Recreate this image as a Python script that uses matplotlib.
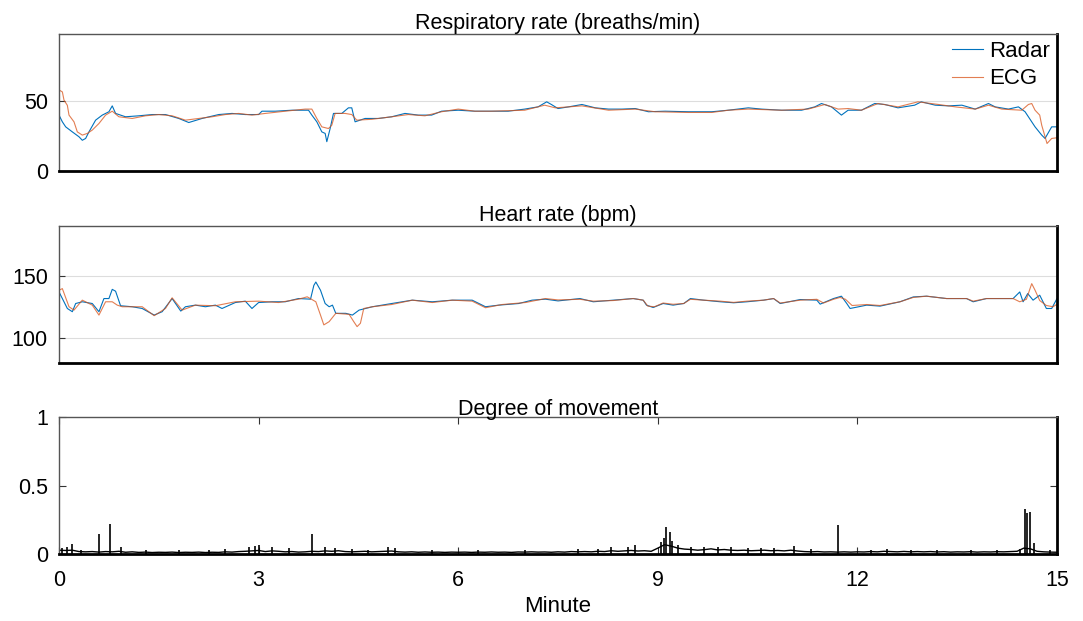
import numpy as np
import matplotlib.pyplot as plt

plt.rcParams['font.family'] = ['Liberation Sans', 'DejaVu Sans']

# (minute, value)
resp_radar = [(0, 40), (0.05, 35.2), (0.1, 31.6), (0.2, 28), (0.3, 24.5), (0.35, 22), (0.4, 23.3),
              (0.45, 28), (0.55, 36.4), (0.65, 40), (0.75, 42.4), (0.8, 46.6), (0.85, 41.2), (1.0, 38.8),
              (1.2, 39.5), (1.4, 40.4), (1.6, 40.4), (1.8, 37.6), (1.95, 34.7), (2.15, 37.6), (2.4, 40.4),
              (2.6, 41.2), (2.8, 40.4), (3.0, 40.4), (3.05, 42.8), (3.25, 42.8), (3.5, 43.5), (3.75, 43.5),
              (3.8, 40), (3.875, 35.2), (3.95, 28), (4.0, 26.9), (4.025, 21), (4.075, 30.4), (4.125, 41.2),
              (4.25, 41.2), (4.35, 45.2), (4.4, 45.2), (4.45, 35.2), (4.6, 37.6), (4.8, 37.6), (5.0, 38.8),
              (5.2, 41.2), (5.4, 40), (5.6, 40), (5.75, 42.8), (6.0, 43.5), (6.25, 42.8), (6.5, 42.8),
              (6.75, 42.8), (7.0, 44.3), (7.2, 45.9), (7.33, 49.5), (7.4, 47.6), (7.5, 44.7), (7.66, 45.9),
              (7.86, 47.6), (8.06, 45.2), (8.26, 44.3), (8.46, 44.3), (8.66, 44.7), (8.86, 42.4), (9.11, 42.8),
              (9.46, 42.4), (9.81, 42.4), (10.06, 43.5), (10.36, 45.2), (10.56, 44.3), (10.86, 43.5),
              (11.16, 43.5), (11.36, 45.9), (11.46, 48.3), (11.61, 45.9), (11.76, 40), (11.86, 43.5),
              (12.06, 43.5), (12.26, 48.3), (12.41, 47.6), (12.61, 45.2), (12.86, 47.1), (12.96, 49.5),
              (13.17, 47.1), (13.37, 46.6), (13.57, 47.1), (13.77, 44.3), (13.97, 48.3), (14.07, 45.9),
              (14.27, 44.3), (14.42, 45.9), (14.52, 42.4), (14.57, 38.8), (14.67, 31.6), (14.77, 25.7),
              (14.82, 23.3), (14.92, 31.6), (15.0, 31.6)]

resp_ecg = [(0, 58), (0.05, 56.6), (0.075, 50.7), (0.125, 47), (0.15, 40), (0.225, 35.2), (0.275, 28),
            (0.35, 25.7), (0.425, 26.9), (0.5, 29.3), (0.6, 34), (0.7, 40), (0.8, 42.8), (0.9, 38.8),
            (1.1, 37.6), (1.3, 39.5), (1.5, 40.4), (1.7, 39.5), (1.9, 36.4), (2.1, 37.6), (2.3, 38.8),
            (2.5, 40.4), (2.7, 41.2), (2.9, 40), (3.1, 41.2), (3.4, 42.8), (3.7, 44.3), (3.8, 44.3),
            (3.875, 37.6), (3.95, 31.6), (4.05, 30.4), (4.1, 32.8), (4.15, 41.2), (4.3, 41.2), (4.4, 40.4),
            (4.475, 36.4), (4.7, 37), (5.0, 38.8), (5.25, 40.4), (5.5, 39.5), (5.75, 42.4), (6.0, 44.3),
            (6.25, 42.8), (6.5, 42.8), (7.0, 43.5), (7.3, 47.1), (7.46, 45.2), (7.86, 46.6), (8.26, 43.5),
            (8.66, 44.3), (8.96, 42.4), (9.46, 41.9), (9.81, 41.9), (10.06, 43.5), (10.36, 44.3),
            (10.86, 43.5), (11.26, 44.3), (11.51, 47.6), (11.71, 44.3), (11.86, 44.7), (12.06, 43.5),
            (12.31, 48.3), (12.61, 45.9), (12.91, 49.5), (13.22, 47.6), (13.47, 45.9), (13.77, 44.3),
            (13.97, 47.1), (14.17, 44.3), (14.47, 43.5), (14.57, 47.6), (14.62, 48.3), (14.67, 43.5),
            (14.74, 40), (14.77, 32.8), (14.85, 19.7), (14.92, 23.3), (15.0, 23.8)]

hr_radar = [(0, 136.9), (0.05, 131.6), (0.125, 123.6), (0.2, 121), (0.25, 127.6), (0.35, 129), (0.5, 127.6),
            (0.6, 121), (0.675, 131.6), (0.75, 131.6), (0.8, 139), (0.85, 137.5), (0.925, 125.8), (1.1, 125),
            (1.25, 123.6), (1.43, 118.3), (1.55, 121), (1.7, 131.6), (1.83, 121.5), (1.9, 125), (2.05, 126.3),
            (2.2, 125), (2.35, 126.3), (2.45, 123.6), (2.65, 128.4), (2.8, 129.5), (2.9, 123.6), (3.0, 128.4),
            (3.2, 129), (3.4, 129), (3.6, 131.6), (3.78, 131.1), (3.83, 142.2), (3.86, 144.9), (3.93, 138.3),
            (4.0, 127.6), (4.06, 125), (4.11, 126.3), (4.16, 119.7), (4.31, 119.7), (4.41, 118.3),
            (4.51, 122.3), (4.71, 125), (5.0, 127.6), (5.31, 130.3), (5.61, 129), (5.91, 130.3), (6.21, 130.3),
            (6.41, 125), (6.61, 126.3), (6.91, 127.6), (7.11, 130.3), (7.31, 131.1), (7.5, 129.7),
            (7.83, 131.6), (8.03, 129), (8.33, 130.3), (8.63, 131.6), (8.78, 130.3), (8.83, 126.3),
            (8.93, 124.4), (9.08, 127.6), (9.23, 126.3), (9.39, 127.6), (9.49, 131.6), (9.69, 130.3),
            (9.94, 129), (10.14, 128.2), (10.34, 129), (10.59, 130.3), (10.74, 131.6), (10.84, 127.6),
            (11.14, 130.8), (11.39, 130.3), (11.44, 127.1), (11.64, 131.6), (11.76, 133.5), (11.84, 127.6),
            (11.89, 123.6), (12.14, 126.3), (12.34, 125.5), (12.64, 129), (12.84, 132.9), (13.04, 133.5),
            (13.34, 131.6), (13.64, 131.6), (13.74, 129), (13.94, 131.6), (14.14, 131.6), (14.34, 131.6),
            (14.44, 136.9), (14.49, 129), (14.56, 135.6), (14.64, 130.3), (14.74, 134.3), (14.84, 123.6),
            (14.92, 123.6), (15.0, 131.6)]

hr_ecg = [(0, 138.3), (0.05, 139.6), (0.15, 125), (0.225, 122.3), (0.35, 130.3), (0.5, 126.3), (0.6, 118.3),
          (0.7, 129), (0.8, 129), (0.875, 126.3), (0.95, 125), (1.25, 125), (1.43, 117.8), (1.6, 123.6),
          (1.7, 132.2), (1.85, 122.3), (2.05, 126.3), (2.35, 125.8), (2.65, 129), (3.0, 129.5), (3.3, 128.4),
          (3.6, 131.1), (3.73, 133), (3.86, 129), (3.93, 118.3), (3.98, 110.4), (4.06, 113), (4.16, 119.7),
          (4.36, 118.9), (4.43, 113), (4.48, 109), (4.53, 111.7), (4.58, 123.6), (4.71, 125), (5.0, 126.8),
          (5.31, 130.3), (5.61, 128.4), (5.91, 130.3), (6.21, 129.5), (6.41, 124.2), (6.66, 126.8),
          (7.01, 128.4), (7.31, 131.6), (7.5, 130.5), (7.83, 131), (8.03, 129.5), (8.33, 130), (8.63, 131.6),
          (8.78, 130.3), (8.85, 125.5), (8.95, 125), (9.08, 128), (9.23, 127), (9.39, 127.6), (9.49, 131),
          (9.69, 130.3), (9.94, 129.5), (10.14, 128.5), (10.34, 129.5), (10.59, 130.3), (10.74, 131.6),
          (10.84, 128), (11.14, 130.3), (11.39, 131), (11.49, 128), (11.64, 131), (11.74, 132.5), (11.82, 131),
          (11.92, 126), (12.14, 126.8), (12.34, 126), (12.64, 129), (12.84, 132.5), (13.04, 133.5),
          (13.34, 131.6), (13.64, 131.6), (13.74, 129.5), (13.94, 131.6), (14.14, 131.6), (14.34, 131.6),
          (14.44, 129), (14.54, 131), (14.62, 143.6), (14.67, 138.3), (14.74, 130), (14.84, 126),
          (14.94, 125), (15.0, 127)]

# movement baseline, one value every 0.1 min from 0 to 15
mov_base = [0.030, 0.028, 0.030, 0.020, 0.018, 0.020, 0.016, 0.020, 0.018, 0.022,
            0.015, 0.018, 0.014, 0.016, 0.013, 0.015, 0.014, 0.016, 0.013, 0.015,
            0.014, 0.016, 0.013, 0.015, 0.014, 0.018, 0.016, 0.020, 0.022, 0.025,
            0.028, 0.020, 0.025, 0.022, 0.018, 0.020, 0.016, 0.018, 0.022, 0.020,
            0.025, 0.022, 0.026, 0.020, 0.018, 0.020, 0.022, 0.018, 0.020, 0.022,
            0.024, 0.018, 0.016, 0.018, 0.015, 0.017, 0.015, 0.016, 0.014, 0.016,
            0.015, 0.016, 0.014, 0.016, 0.015, 0.017, 0.015, 0.016, 0.014, 0.017,
            0.016, 0.018, 0.016, 0.017, 0.015, 0.018, 0.016, 0.020, 0.018, 0.020,
            0.018, 0.022, 0.020, 0.026, 0.022, 0.025, 0.028, 0.024, 0.026, 0.022,
            0.045, 0.070, 0.060, 0.045, 0.038, 0.035, 0.030, 0.034, 0.040, 0.032,
            0.035, 0.030, 0.028, 0.030, 0.026, 0.028, 0.030, 0.026, 0.028, 0.025,
            0.030, 0.024, 0.020, 0.018, 0.020, 0.017, 0.018, 0.016, 0.018, 0.016,
            0.018, 0.017, 0.020, 0.018, 0.022, 0.020, 0.018, 0.021, 0.018, 0.020,
            0.018, 0.020, 0.017, 0.019, 0.016, 0.018, 0.017, 0.019, 0.016, 0.018,
            0.017, 0.019, 0.018, 0.020, 0.022, 0.045, 0.040, 0.022, 0.018, 0.016,
            0.015]

mov_spikes = [(0.05, 0.045), (0.12, 0.05), (0.2, 0.075), (0.33, 0.035), (0.6, 0.15), (0.77, 0.22),
              (0.93, 0.05), (1.3, 0.03), (1.8, 0.03), (2.25, 0.035), (2.5, 0.04), (2.85, 0.055),
              (2.95, 0.06), (3.0, 0.07), (3.2, 0.05), (3.45, 0.045), (3.8, 0.15), (4.0, 0.05),
              (4.15, 0.045), (4.4, 0.04), (4.65, 0.035), (4.95, 0.055), (5.05, 0.045), (5.6, 0.03),
              (6.3, 0.03), (7.0, 0.03), (7.8, 0.04), (8.1, 0.04), (8.3, 0.05), (8.55, 0.05), (8.66, 0.07),
              (9.05, 0.09), (9.1, 0.12), (9.13, 0.2), (9.18, 0.16), (9.22, 0.1), (9.3, 0.065), (9.5, 0.05),
              (9.7, 0.055), (9.9, 0.05), (10.1, 0.05), (10.35, 0.045), (10.55, 0.045), (10.75, 0.045),
              (11.05, 0.06), (11.3, 0.04), (11.71, 0.215), (12.2, 0.035), (12.45, 0.04), (12.8, 0.035),
              (13.2, 0.035), (13.7, 0.035), (14.1, 0.035), (14.45, 0.04), (14.52, 0.33), (14.55, 0.3),
              (14.59, 0.31), (14.65, 0.08), (14.9, 0.035)]

x_ticks = [0, 3, 6, 9, 12, 15]

blue = '#0072BD'
orange = '#D95319'


def style_box(ax):
    # matlab-ish box: light left/top, heavy bottom/right
    ax.spines['left'].set_color('#555555')
    ax.spines['top'].set_color('#555555')
    ax.spines['left'].set_linewidth(1.0)
    ax.spines['top'].set_linewidth(1.0)
    ax.spines['bottom'].set_color('black')
    ax.spines['right'].set_color('black')
    ax.spines['bottom'].set_linewidth(2.0)
    ax.spines['right'].set_linewidth(2.0)


fig = plt.figure(figsize=(10.83, 6.21), dpi=100)
ax1 = fig.add_axes([0.0545, 0.7246, 0.9215, 0.2206])
ax2 = fig.add_axes([0.0545, 0.4160, 0.9215, 0.2201])
ax3 = fig.add_axes([0.0545, 0.1074, 0.9215, 0.2206])

t, v = np.array(resp_radar).T
ax1.plot(t, v, color=blue, lw=0.8, label='Radar')
t, v = np.array(resp_ecg).T
ax1.plot(t, v, color=orange, lw=0.8, alpha=0.75, label='ECG')
ax1.set_ylim(0, 98)
ax1.set_yticks([0, 50])
ax1.set_title('Respiratory rate (breaths/min)', fontsize=15.5, pad=2)
ax1.legend(loc='upper right', frameon=False, fontsize=16, handlelength=1.4,
           handletextpad=0.3, borderaxespad=0.15, labelspacing=0.3, borderpad=0.15)

t, v = np.array(hr_radar).T
ax2.plot(t, v, color=blue, lw=0.8)
t, v = np.array(hr_ecg).T
ax2.plot(t, v, color=orange, lw=0.8, alpha=0.75)
ax2.set_ylim(80, 190)
ax2.set_yticks([100, 150])
ax2.set_title('Heart rate (bpm)', fontsize=15.5, pad=2)

for ax in (ax1, ax2):
    ax.set_xlim(0, 15)
    ax.set_xticks([])
    ax.yaxis.grid(True, color='#dddddd', lw=0.8)
    ax.set_axisbelow(True)
    ax.tick_params(axis='y', direction='in', length=4, labelsize=15.5, pad=8, color='#333333')
    style_box(ax)

mt = np.linspace(0, 15, len(mov_base))
ax3.plot(mt, mov_base, color='black', lw=1.0)
st, sh = np.array(mov_spikes).T
ax3.vlines(st, 0, sh, color='black', lw=1.2)
ax3.set_xlim(0, 15)
ax3.set_ylim(0, 1)
ax3.set_yticks([0, 0.5, 1])
ax3.set_yticklabels(['0', '0.5', '1'])
ax3.set_xticks(x_ticks)
ax3.tick_params(direction='in', length=5, labelsize=15.5, top=True, right=True, color='#333333')
ax3.tick_params(axis='x', pad=11)
ax3.tick_params(axis='y', pad=8)
ax3.set_title('Degree of movement', fontsize=15.5, pad=2)
ax3.set_xlabel('Minute', fontsize=16, labelpad=4)
style_box(ax3)

fig.savefig('out.png', dpi=100)
